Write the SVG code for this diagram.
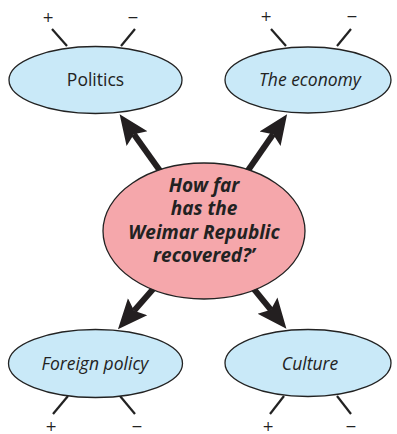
<svg xmlns="http://www.w3.org/2000/svg" width="397" height="434" viewBox="0 0 397 434">
<style>
.topic{fill:#c9e9f8;stroke:#222;stroke-width:1.3}
.hub{fill:#f5a7ab;stroke:#222;stroke-width:1.3}
.lbl{font-family:"Open Sans","Noto Sans",sans-serif;font-size:17.5px;fill:#222;text-anchor:middle}
.it{font-style:italic}
.hubt{font-family:"Open Sans","Noto Sans",sans-serif;font-size:19px;font-weight:bold;font-style:italic;fill:#222;text-anchor:middle}
.tick{stroke:#222;stroke-width:2.2;fill:none}
.sign{font-family:"DejaVu Sans",sans-serif;font-size:14px;fill:#222;text-anchor:middle}
.shaft{stroke:#231f20;stroke-width:6;fill:none;marker-end:url(#head)}
</style>
<defs>
<marker id="head" markerUnits="userSpaceOnUse" markerWidth="32" markerHeight="30" refX="5" refY="0" viewBox="0 -13 30 26" orient="auto">
<path d="M0,-12 L28,0 L0,12 L5,0 Z" fill="#231f20"/>
</marker>
</defs>
<rect width="397" height="434" fill="#fff"/>
<g id="politics">
<line class="tick" x1="52" y1="29" x2="67" y2="46"/>
<line class="tick" x1="135" y1="29" x2="121" y2="46"/>
<text class="sign" x="48" y="22">+</text>
<text class="sign" x="133" y="22">−</text>
<ellipse class="topic" cx="95.5" cy="80" rx="86.5" ry="33.5"/>
<text class="lbl" x="95.5" y="86">Politics</text>
</g>
<g id="economy">
<line class="tick" x1="271" y1="29" x2="286" y2="46"/>
<line class="tick" x1="351" y1="29" x2="337" y2="46"/>
<text class="sign" x="266" y="21">+</text>
<text class="sign" x="352" y="21">−</text>
<ellipse class="topic" cx="308" cy="80" rx="83" ry="33"/>
<text class="lbl it" x="310" y="86">The economy</text>
</g>
<g id="foreign">
<line class="tick" x1="68" y1="396" x2="53" y2="414"/>
<line class="tick" x1="120" y1="396" x2="135" y2="414"/>
<text class="sign" x="51" y="431">+</text>
<text class="sign" x="137" y="431">−</text>
<ellipse class="topic" cx="95.5" cy="363.5" rx="87" ry="34"/>
<text class="lbl it" x="95" y="370">Foreign policy</text>
</g>
<g id="culture">
<line class="tick" x1="284" y1="396" x2="270" y2="414"/>
<line class="tick" x1="337" y1="396" x2="351" y2="414"/>
<text class="sign" x="268" y="431">+</text>
<text class="sign" x="351" y="431">−</text>
<ellipse class="topic" cx="308" cy="363" rx="83" ry="33.5"/>
<text class="lbl it" x="310" y="370">Culture</text>
</g>
<g id="connectors">
<line class="shaft" x1="168" y1="182" x2="133.9" y2="134.3"/>
<line class="shaft" x1="240" y1="182" x2="273.1" y2="134.3"/>
<line class="shaft" x1="168" y1="272" x2="134.1" y2="310.8"/>
<line class="shaft" x1="240" y1="272" x2="270.9" y2="309.8"/>
</g>
<g id="hub">
<ellipse class="hub" cx="204" cy="231" rx="101" ry="68"/>
<text class="hubt" x="204" y="191.5">How far</text>
<text class="hubt" x="204" y="215">has the</text>
<text class="hubt" x="204" y="238.5">Weimar Republic</text>
<text class="hubt" x="204" y="262">recovered?’</text>
</g>
</svg>
